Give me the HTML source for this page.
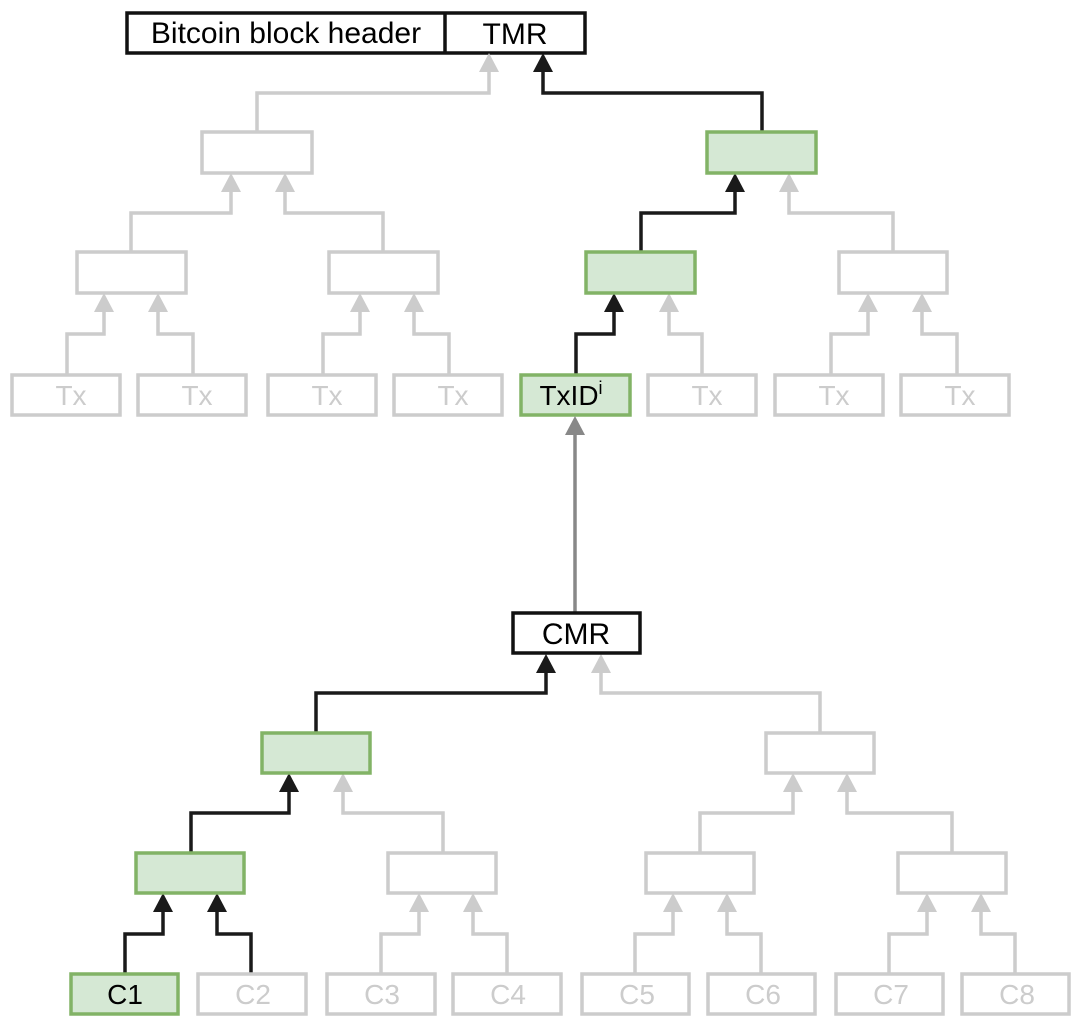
<!DOCTYPE html>
<html><head><meta charset="utf-8"><style>
html,body{margin:0;padding:0;background:#fff;}
svg{display:block;font-family:"Liberation Sans",Arial,sans-serif;}
.g{fill:#fff;stroke:#cccccc;stroke-width:3.5;}
.gr{fill:#d5e8d4;stroke:#82b366;stroke-width:3.5;}
.k{fill:#fff;stroke:#111;stroke-width:3.5;}
.lg{fill:none;stroke:#cccccc;stroke-width:3.5;}
.lk{fill:none;stroke:#1a1a1a;stroke-width:3.5;}
.tg{fill:#cccccc;font-size:28px;text-anchor:middle;}
.tk{fill:#000;font-size:28px;text-anchor:middle;}
.big{fill:#000;font-size:30px;text-anchor:middle;}
</style></head><body>
<svg width="1084" height="1028" viewBox="0 0 1084 1028" xmlns="http://www.w3.org/2000/svg">
<rect class="k" x="127" y="13" width="458" height="40"/>
<line x1="445" y1="13" x2="445" y2="53" stroke="#111" stroke-width="3.5"/>
<text class="big" x="286" y="43">Bitcoin block header</text>
<text class="big" x="515" y="44">TMR</text>

<g class="lg">
<polyline points="257,132 257,93 489,93 489,70"/>
<polyline points="131,252 131,213 231,213 231,190"/>
<polyline points="383,252 383,213 285,213 285,190"/>
<polyline points="893,252 893,213 789,213 789,190"/>
<polyline points="67,374 67,334 104,334 104,311"/>
<polyline points="193,374 193,334 158,334 158,311"/>
<polyline points="323,374 323,334 360,334 360,311"/>
<polyline points="449,374 449,334 414,334 414,311"/>
<polyline points="702,374 702,334 669,334 669,311"/>
<polyline points="831,374 831,334 868,334 868,311"/>
<polyline points="957,374 957,334 922,334 922,311"/>
</g>
<g fill="#cccccc">
<polygon points="489,53 479,72 499,72"/>
<polygon points="231,173 221,192 241,192"/>
<polygon points="285,173 275,192 295,192"/>
<polygon points="789,173 779,192 799,192"/>
<polygon points="104,293 94,312 114,312"/>
<polygon points="158,293 148,312 168,312"/>
<polygon points="360,293 350,312 370,312"/>
<polygon points="414,293 404,312 424,312"/>
<polygon points="669,293 659,312 679,312"/>
<polygon points="868,293 858,312 878,312"/>
<polygon points="922,293 912,312 932,312"/>
</g>
<g class="lk">
<polyline points="762,132 762,93 543,93 543,70"/>
<polyline points="641,252 641,213 735,213 735,190"/>
<polyline points="576,374 576,334 614,334 614,311"/>
</g>
<g fill="#1a1a1a">
<polygon points="543,53 533,72 553,72"/>
<polygon points="735,173 725,192 745,192"/>
<polygon points="614,293 604,312 624,312"/>
</g>

<rect class="g" x="202" y="132" width="110" height="41"/>
<rect class="gr" x="707" y="132" width="109" height="41"/>
<rect class="g" x="77" y="252" width="109" height="41"/>
<rect class="g" x="329" y="252" width="109" height="41"/>
<rect class="gr" x="586" y="252" width="109" height="41"/>
<rect class="g" x="839" y="252" width="108" height="41"/>
<rect class="g" x="12" y="375" width="108" height="40"/>
<rect class="g" x="138" y="375" width="108" height="40"/>
<rect class="g" x="268" y="375" width="108" height="40"/>
<rect class="g" x="394" y="375" width="108" height="40"/>
<rect class="gr" x="521" y="375" width="109" height="40"/>
<rect class="g" x="648" y="375" width="108" height="40"/>
<rect class="g" x="775" y="375" width="108" height="40"/>
<rect class="g" x="901" y="375" width="108" height="40"/>
<text class="tg" x="71" y="405">Tx</text>
<text class="tg" x="197" y="405">Tx</text>
<text class="tg" x="327" y="405">Tx</text>
<text class="tg" x="453" y="405">Tx</text>
<text class="tk" x="571" y="405">TxID<tspan font-size="18" dy="-11">i</tspan></text>
<text class="tg" x="707" y="405">Tx</text>
<text class="tg" x="834" y="405">Tx</text>
<text class="tg" x="960" y="405">Tx</text>

<line x1="575" y1="612" x2="575" y2="434" stroke="#888" stroke-width="3.5"/>
<polygon points="575,416 565,435 585,435" fill="#888"/>

<g class="lg">
<polyline points="820,733 820,693 601,693 601,672"/>
<polyline points="443,853 443,813 343,813 343,791"/>
<polyline points="700,853 700,813 793,813 793,791"/>
<polyline points="952,853 952,813 847,813 847,791"/>
<polyline points="381,974 381,934 419,934 419,911"/>
<polyline points="507,974 507,934 473,934 473,911"/>
<polyline points="635,974 635,934 673,934 673,911"/>
<polyline points="761,974 761,934 727,934 727,911"/>
<polyline points="889,974 889,934 927,934 927,911"/>
<polyline points="1015,974 1015,934 981,934 981,911"/>
</g>
<g fill="#cccccc">
<polygon points="601,654 591,673 611,673"/>
<polygon points="343,773 333,792 353,792"/>
<polygon points="793,773 783,792 803,792"/>
<polygon points="847,773 837,792 857,792"/>
<polygon points="419,893 409,912 429,912"/>
<polygon points="473,893 463,912 483,912"/>
<polygon points="673,893 663,912 683,912"/>
<polygon points="727,893 717,912 737,912"/>
<polygon points="927,893 917,912 937,912"/>
<polygon points="981,893 971,912 991,912"/>
</g>
<g class="lk">
<polyline points="316,733 316,693 546,693 546,672"/>
<polyline points="191,853 191,813 289,813 289,791"/>
<polyline points="125,974 125,934 163,934 163,911"/>
<polyline points="251,974 251,934 217,934 217,911"/>
</g>
<g fill="#1a1a1a">
<polygon points="546,654 536,673 556,673"/>
<polygon points="289,773 279,792 299,792"/>
<polygon points="163,893 153,912 173,912"/>
<polygon points="217,893 207,912 227,912"/>
</g>

<rect class="k" x="513" y="613" width="127" height="40"/>
<text class="big" x="576" y="644">CMR</text>
<rect class="gr" x="262" y="733" width="108" height="40"/>
<rect class="g" x="766" y="733" width="108" height="40"/>
<rect class="gr" x="136" y="853" width="108" height="40"/>
<rect class="g" x="388" y="853" width="108" height="40"/>
<rect class="g" x="646" y="853" width="108" height="40"/>
<rect class="g" x="898" y="853" width="108" height="40"/>
<rect class="gr" x="71" y="974" width="107" height="40"/>
<rect class="g" x="198" y="974" width="108" height="40"/>
<rect class="g" x="327" y="974" width="108" height="40"/>
<rect class="g" x="453" y="974" width="108" height="40"/>
<rect class="g" x="582" y="974" width="107" height="40"/>
<rect class="g" x="708" y="974" width="107" height="40"/>
<rect class="g" x="836" y="974" width="107" height="40"/>
<rect class="g" x="962" y="974" width="107" height="40"/>
<text class="tk" x="125" y="1004">C1</text>
<text class="tg" x="253" y="1004">C2</text>
<text class="tg" x="382" y="1004">C3</text>
<text class="tg" x="508" y="1004">C4</text>
<text class="tg" x="637" y="1004">C5</text>
<text class="tg" x="763" y="1004">C6</text>
<text class="tg" x="891" y="1004">C7</text>
<text class="tg" x="1017" y="1004">C8</text>
</svg>
</body></html>
